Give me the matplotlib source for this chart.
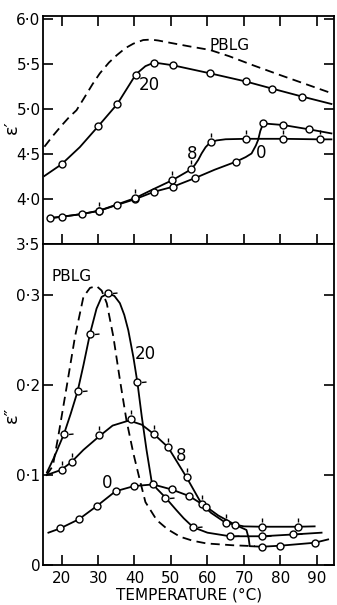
import numpy as np
import matplotlib
matplotlib.use("Agg")
import matplotlib.pyplot as plt
from matplotlib.path import Path

# ---- top panel: eps' ----
pblg_top_x = [15.3, 17.5, 20, 22, 24.1, 26.4, 28.5, 30.5, 33, 35.1, 37.5, 39.7, 42.4,
              44.5, 46.5, 49.7, 55, 60.7, 66, 72.5, 80, 87, 94]
pblg_top_y = [4.585, 4.70, 4.82, 4.91, 4.99, 5.14, 5.28, 5.40, 5.52, 5.60, 5.68, 5.73, 5.77,
              5.775, 5.765, 5.74, 5.70, 5.66, 5.59, 5.49, 5.38, 5.28, 5.18]

s20_top_x = [15.3, 20, 25, 30, 35.3, 40.4, 43, 45.4, 50.5, 60.75, 70.5, 77.8, 85.8, 94]
s20_top_y = [4.26, 4.39, 4.58, 4.81, 5.06, 5.39, 5.48, 5.52, 5.49, 5.40, 5.31, 5.23, 5.144, 5.06]
s20_top_mx = [20, 30, 35.3, 40.4, 45.4, 50.5, 60.75, 70.5, 77.8, 85.8]
s20_top_my = [4.39, 4.81, 5.06, 5.38, 5.52, 5.49, 5.40, 5.31, 5.23, 5.14]

s0_top_x = [16.3, 20, 25.5, 30.3, 35.3, 40.2, 45.4, 50.5, 56.6, 62, 67.9, 70.5, 72.1,
            73.3, 73.9, 74.5, 75.3, 80.8, 87.9, 94]
s0_top_y = [3.79, 3.807, 3.837, 3.873, 3.94, 4.003, 4.085, 4.14, 4.237, 4.33, 4.42, 4.47, 4.51,
            4.60, 4.66, 4.76, 4.844, 4.826, 4.778, 4.733]
s0_top_mx = [16.8, 20, 25.5, 30.3, 35.3, 40.2, 45.4, 50.5, 56.6, 67.9, 75.3, 80.8, 87.9]
s0_top_my = [3.789, 3.807, 3.837, 3.873, 3.94, 4.003, 4.085, 4.14, 4.237, 4.42, 4.844, 4.826, 4.778]

s8_top_x = [16.3, 20, 25.5, 30.3, 35.3, 40.2, 45, 50.4, 55.5, 56.5, 57.5, 58.4, 59.5, 60.7,
            62.5, 65, 70.7, 80.8, 90.8, 94]
s8_top_y = [3.79, 3.807, 3.837, 3.875, 3.945, 4.015, 4.11, 4.214, 4.333, 4.38, 4.44, 4.51, 4.58,
            4.63, 4.655, 4.668, 4.673, 4.673, 4.667, 4.667]
s8_top_mx = [30.3, 40.2, 50.4, 55.5, 60.9, 70.7, 80.8, 90.8]
s8_top_my = [3.875, 4.015, 4.214, 4.333, 4.633, 4.673, 4.673, 4.667]

# ---- bottom panel: eps'' ----
pblg_bot_x = [15.9, 17.6, 19.1, 21.4, 23.7, 26, 27.8, 29.6, 31, 32.4, 34.2, 36, 37.8, 39.7,
              41.5, 43, 46.1, 49, 52.5, 56, 59.8, 67, 73]
pblg_bot_y = [0.100, 0.110, 0.143, 0.198, 0.254, 0.298, 0.308, 0.310, 0.305, 0.291, 0.254,
              0.206, 0.161, 0.124, 0.094, 0.070, 0.050, 0.040, 0.0315, 0.027, 0.024, 0.022, 0.021]

s20_bot_x = [16.0, 18, 20.7, 22.5, 24.4, 26, 27.8, 29.6, 31, 32.8, 34.5, 36.0, 37.2, 38.3,
             39.7, 40.8, 42.0, 43.3, 44.7, 46.1, 48.5, 51.5, 53.5, 56.1, 60, 66.2, 75, 83.5, 91.3]
s20_bot_y = [0.103, 0.120, 0.146, 0.168, 0.193, 0.222, 0.257, 0.285, 0.298, 0.302, 0.299,
             0.291, 0.278, 0.261, 0.231, 0.203, 0.165, 0.128, 0.093, 0.085, 0.075, 0.061,
             0.052, 0.042, 0.036, 0.032, 0.032, 0.034, 0.036]
s20_bot_mx = [20.7, 24.4, 27.8, 32.8, 40.8, 48.5, 56.1, 66.2, 75, 83.5]
s20_bot_my = [0.146, 0.193, 0.257, 0.302, 0.203, 0.075, 0.042, 0.032, 0.032, 0.034]

s8_bot_x = [15.9, 19.8, 22.6, 26, 30.3, 34, 38, 39, 42, 45.3, 49.2, 54.3, 58.4, 61, 65,
            70, 75, 84.9, 89.4]
s8_bot_y = [0.100, 0.1056, 0.114, 0.128, 0.143, 0.155, 0.160, 0.160, 0.156, 0.1456, 0.131,
            0.0974, 0.068, 0.058, 0.047, 0.043, 0.0426, 0.0426, 0.043]
s8_bot_mx = [20.0, 22.8, 30.3, 39.0, 45.3, 49.2, 54.3, 58.4, 65.0, 75, 84.9]
s8_bot_my = [0.1056, 0.114, 0.144, 0.162, 0.1456, 0.131, 0.0974, 0.068, 0.047, 0.0426, 0.0426]

s0_bot_x = [16.4, 19.6, 24.8, 29.8, 34.8, 39.9, 45.1, 50.2, 55, 59.6, 63, 67.5, 70.7,
            71.3, 71.6, 75, 79.9, 89.4, 93.1]
s0_bot_y = [0.036, 0.0407, 0.051, 0.066, 0.082, 0.0878, 0.0896, 0.084, 0.0767, 0.065, 0.055,
            0.045, 0.039, 0.030, 0.021, 0.0204, 0.0215, 0.0248, 0.0285]
s0_bot_mx = [19.6, 24.8, 29.8, 34.8, 39.9, 45.1, 50.2, 55, 59.6, 67.5, 75, 79.9, 89.4]
s0_bot_my = [0.0407, 0.051, 0.066, 0.082, 0.0878, 0.0896, 0.084, 0.0767, 0.065, 0.045,
             0.0204, 0.0215, 0.0248]

xticks = [20, 30, 40, 50, 60, 70, 80, 90]
top_yticks = [3.5, 4.0, 4.5, 5.0, 5.5, 6.0]
top_ylabels = ["3·5", "4·0", "4·5", "5·0", "5·5", "6·0"]
bot_yticks = [0, 0.1, 0.2, 0.3]
bot_ylabels = ["0", "0·1", "0·2", "0·3"]

plt.rcParams['font.family'] = ['DejaVu Sans']
plt.rcParams['font.size'] = 11

# small stub markers ("pips") attached to the circles
pip_up = Path([(0, 0.5), (0, 1.0), (0, -1.0)], [Path.MOVETO, Path.LINETO, Path.MOVETO])
pip_right = Path([(0.5, 0), (1.0, 0.05), (-1.0, 0)], [Path.MOVETO, Path.LINETO, Path.MOVETO])

fig = plt.figure(figsize=(3.37, 6.05), dpi=100)
ax1 = fig.add_axes([0.1285, 0.596, 0.8625, 0.378])
ax2 = fig.add_axes([0.1285, 0.066, 0.8625, 0.530])

lw = 1.3
circ = dict(marker='o', ms=5, mfc='white', mec='black', mew=1.0, ls='none', zorder=4)

# top panel
ax1.plot(pblg_top_x, pblg_top_y, 'k--', lw=lw, dashes=(5, 3))
ax1.plot(s20_top_x, s20_top_y, 'k-', lw=lw)
ax1.plot(s0_top_x, s0_top_y, 'k-', lw=lw)
ax1.plot(s8_top_x, s8_top_y, 'k-', lw=lw)
ax1.plot(s20_top_mx, s20_top_my, **circ)
ax1.plot(s0_top_mx, s0_top_my, **circ)
ax1.plot(s8_top_mx, s8_top_my, marker=pip_up, ms=13, mew=1.0, color='black', ls='none', zorder=5)
ax1.plot(s8_top_mx, s8_top_my, **circ)

ax1.text(66.2, 5.71, "PBLG", ha='center', va='center', fontsize=11)
ax1.text(44.2, 5.27, "20", ha='center', va='center', fontsize=12)
ax1.text(55.9, 4.50, "8", ha='center', va='center', fontsize=12)
ax1.text(74.8, 4.51, "0", ha='center', va='center', fontsize=12)

ax1.set_xlim(15, 94.7)
ax1.set_ylim(3.5, 6.04)
ax1.set_xticks(xticks)
ax1.set_yticks(top_yticks)
ax1.set_yticklabels(top_ylabels)
ax1.tick_params(axis='x', direction='in', top=True, bottom=True, labelbottom=False,
                length=7, width=1.2)
ax1.tick_params(axis='y', direction='in', left=True, right=True, length=7, width=1.2, pad=2)

# bottom panel
ax2.plot(pblg_bot_x, pblg_bot_y, 'k--', lw=lw, dashes=(5, 3))
ax2.plot(s20_bot_x, s20_bot_y, 'k-', lw=lw)
ax2.plot(s8_bot_x, s8_bot_y, 'k-', lw=lw)
ax2.plot(s0_bot_x, s0_bot_y, 'k-', lw=lw)
ax2.plot(s20_bot_mx, s20_bot_my, marker=pip_right, ms=13, mew=1.0, color='black', ls='none', zorder=5)
ax2.plot(s8_bot_mx, s8_bot_my, marker=pip_up, ms=13, mew=1.0, color='black', ls='none', zorder=5)
ax2.plot(s20_bot_mx, s20_bot_my, **circ)
ax2.plot(s8_bot_mx, s8_bot_my, **circ)
ax2.plot(s0_bot_mx, s0_bot_my, **circ)

ax2.text(22.8, 0.321, "PBLG", ha='center', va='center', fontsize=11)
ax2.text(42.9, 0.235, "20", ha='center', va='center', fontsize=12)
ax2.text(52.9, 0.121, "8", ha='center', va='center', fontsize=12)
ax2.text(32.4, 0.091, "0", ha='center', va='center', fontsize=12)

ax2.set_xlim(15, 94.7)
ax2.set_ylim(0, 0.3563)
ax2.set_xticks(xticks)
ax2.set_yticks(bot_yticks)
ax2.set_yticklabels(bot_ylabels)
ax2.tick_params(axis='x', direction='in', top=False, bottom=True, length=7, width=1.2, pad=4)
ax2.tick_params(axis='y', direction='in', left=True, right=True, length=7, width=1.2, pad=2)
ax2.set_xlabel("TEMPERATURE (°C)", fontsize=11, labelpad=1)

for ax in (ax1, ax2):
    for s in ax.spines.values():
        s.set_linewidth(1.3)

fig.text(12 / 337, 1 - 127 / 605, "ε′", rotation=90, ha='center', va='center', fontsize=13)
fig.text(12 / 337, 1 - 415 / 605, "ε″", rotation=90, ha='center', va='center', fontsize=13)

fig.savefig("out.png", dpi=100)
